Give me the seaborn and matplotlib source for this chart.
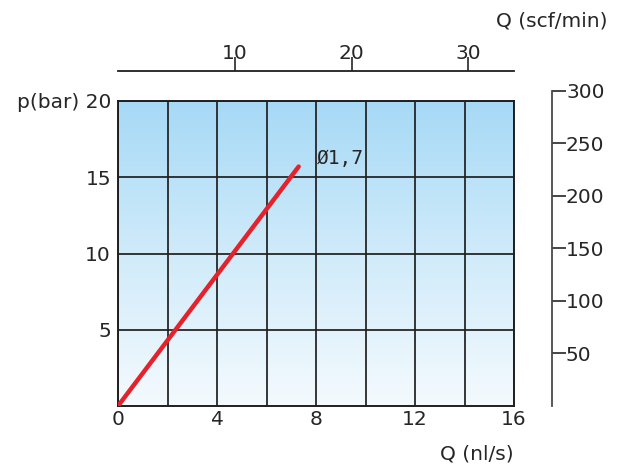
import numpy as np
import pandas as pd
import matplotlib
matplotlib.use("Agg")
import matplotlib.pyplot as plt
import seaborn as sns
from matplotlib.colors import LinearSegmentedColormap
from matplotlib.ticker import MultipleLocator

# flow vs pressure curve for orifice 1.7
flow_nl_s = [0.0, 7.3]
pressure_bar = [0.0, 15.7]
orifice_label = "Ø1,7"

x_ticks = [0, 4, 8, 12, 16]
x_tick_labels = ["0", "4", "8", "12", "16"]
y_ticks = [5, 10, 15, 20]
y_tick_labels = ["5", "10", "15", "p(bar) 20"]
scf_ticks = [10, 20, 30]
psi_ticks = [50, 100, 150, 200, 250, 300]

NL_TO_SCF = 60 / 28.3168
BAR_TO_PSI = 14.5038
INK = "#1f1f1f"
TXT = "#262626"
FS = 14.5

sns.set_style("white")
plt.rcParams["font.family"] = ["DejaVu Sans"]

W, H = 626, 466
fig = plt.figure(figsize=(W / 100, H / 100), dpi=100)
ax_l, ax_b, ax_w, ax_h = 118, 60, 396, 305
ax = fig.add_axes([ax_l / W, ax_b / H, ax_w / W, ax_h / H])

# blue gradient background
bg = LinearSegmentedColormap.from_list("bg", ["#f4fafe", "#d0ebfa", "#a6d9f6"])
ax.imshow(np.linspace(0, 1, 256).reshape(-1, 1), extent=[0, 16, 0, 20],
          aspect="auto", origin="lower", cmap=bg, zorder=0)

df = pd.DataFrame({"flow": flow_nl_s, "pressure": pressure_bar})
sns.lineplot(data=df, x="flow", y="pressure", color="#e3222b", lw=3.2,
             ax=ax, zorder=4)
ax.text(8.05, 16.2, orifice_label, family="DejaVu Sans Mono", fontsize=14,
        color=TXT, ha="left", va="center", zorder=5)

ax.set_xlim(0, 16)
ax.set_ylim(0, 20)
ax.set_xticks(x_ticks)
ax.set_xticklabels(x_tick_labels)
ax.xaxis.set_minor_locator(MultipleLocator(2))
ax.set_yticks(y_ticks)
ax.set_yticklabels(y_tick_labels)
ax.grid(which="both", color=INK, lw=1.25, zorder=2)
ax.tick_params(which="both", length=0, labelsize=FS, colors=TXT)
ax.tick_params(axis="y", pad=5)
ax.tick_params(axis="x", pad=3)
for s in ax.spines.values():
    s.set_visible(True)
    s.set_color(INK)
    s.set_linewidth(1.4)
ax.set_xlabel("Q (nl/s)", loc="right", fontsize=FS, labelpad=11, color=TXT)
ax.set_ylabel("")

# top scale in scf/min
sec = ax.secondary_xaxis(1 + 30 / ax_h, functions=(lambda x: x * NL_TO_SCF,
                                                    lambda x: x / NL_TO_SCF))
sec.set_xticks(scf_ticks)
sec.tick_params(direction="out", length=10, width=1.2, pad=-4, labelsize=FS,
                colors=TXT)
sec.spines["top"].set_color(INK)
sec.spines["top"].set_linewidth(1.3)
fig.text(608 / W, 1 - 21 / H, "Q (scf/min)", ha="right", va="center",
         fontsize=FS, color=TXT)

# right scale in psi
psi_h = ax_h * max(psi_ticks) / (20 * BAR_TO_PSI)
axr = fig.add_axes([552 / W, ax_b / H, 1e-4, psi_h / H])
axr.patch.set_visible(False)
axr.set_ylim(0, max(psi_ticks))
axr.set_yticks(psi_ticks)
axr.set_xticks([])
axr.yaxis.tick_right()
for side in ["left", "top", "bottom"]:
    axr.spines[side].set_visible(False)
axr.spines["right"].set_color("#4a4a4a")
axr.spines["right"].set_linewidth(1.3)
axr.tick_params(axis="y", direction="out", length=10, width=1.2, pad=0,
                labelsize=FS, colors=TXT)

fig.savefig("out.png", dpi=100)
